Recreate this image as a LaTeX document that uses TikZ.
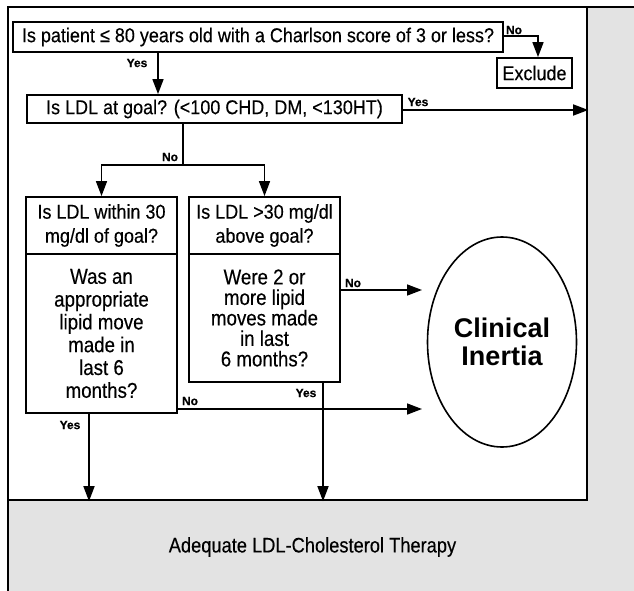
\documentclass[tikz,border=0pt]{standalone}
\usepackage{fontspec}
\setmainfont{Liberation Sans}
\newfontfamily\nfA[FakeStretch=0.9,FakeBold=0.3]{Liberation Sans}
\newfontfamily\nfB[FakeStretch=0.87,FakeBold=0.3]{Liberation Sans}
\newfontfamily\nfL[FakeBold=0.6]{Liberation Sans Bold}
\usetikzlibrary{arrows.meta,shapes.geometric}
\definecolor{panel}{HTML}{E3E3E3}
\begin{document}
\begin{tikzpicture}[x=1pt,y=-1pt,
  box/.style={draw,line width=1.8pt,inner sep=0pt,align=center,font=\nfA\fontsize{20}{23}\selectfont},
  lbl/.style={inner sep=0pt,font=\nfL\fontsize{12}{12}\selectfont},
  arr/.style={line width=1.6pt,-{Triangle[length=15pt,width=11pt]}},
  ln/.style={line width=1.6pt}]
\clip (0,0) rectangle (634,591);
\useasboundingbox (0,0) rectangle (634,591);
% backgrounds
\fill[white] (0,0) rectangle (634,591);
\draw[fill=panel,line width=2.4pt] (8,7) rectangle (700,700);
\node[draw,fill=white,line width=2.4pt,minimum width=579pt,minimum height=493pt,inner sep=0pt] (frame) at (297.5,253.5) {};
% boxes
\node[box,minimum width=490pt,minimum height=30pt] (q1) at (258,37) {Is patient ≤ 80 years old with a Charlson score of 3 or less?};
\node[box,minimum width=75pt,minimum height=30pt] (excl) at (534.5,73) {Exclude};
\node[box,minimum width=375pt,minimum height=28pt] (q2) at (214.5,109) {Is LDL at goal? (<100 CHD, DM, <130HT)};
\node[box,minimum width=151pt,minimum height=57pt,font=\nfA\fontsize{20}{24}\selectfont] (l1a) at (101.5,225.5) {Is LDL within 30\\mg/dl of goal?};
\node[box,minimum width=151pt,minimum height=159pt,font=\nfB\fontsize{21.5}{22.8}\selectfont] (l1b) at (101.5,333.5) {Was an\\appropriate\\lipid move\\made in\\last 6\\months?};
\node[box,minimum width=151pt,minimum height=57pt,font=\nfA\fontsize{20}{24}\selectfont] (r1a) at (264.5,225.5) {Is LDL >30 mg/dl\\above goal?};
\node[box,minimum width=151pt,minimum height=128pt,font=\nfB\fontsize{21.5}{20.5}\selectfont] (r1b) at (264.5,318) {Were 2 or\\more lipid\\moves made\\in last\\6 months?};
\node[ellipse,draw,line width=1.6pt,minimum width=149pt,minimum height=210pt,inner sep=0pt,align=center,font=\bfseries\fontsize{27}{28}\selectfont] (ci) at (502,342) {Clinical\\Inertia};
\node[inner sep=0pt,font=\nfB\fontsize{21}{22}\selectfont] (adq) at (312.5,547) {Adequate LDL-Cholesterol Therapy};
% helper coordinates
\coordinate (cyes1) at (158,0);
\coordinate (cno1) at (538,36);
\coordinate (cyes2) at (0,110);
\coordinate (cno2) at (183,165);
\coordinate (cnoR) at (0,290);
\coordinate (cnoL) at (0,409);
\coordinate (tipx) at (422,0);
\coordinate (cyesL) at (89,0);
\coordinate (cyesR) at (323,0);
% connectors
\draw[arr] (q1.south -| cyes1) -- (q2.north -| cyes1);
\draw[arr] (q1.east |- cno1) -| (excl.north -| cno1);
\draw[arr] (q2.east |- cyes2) -- (frame.east |- cyes2);
\draw[ln] (q2.south -| cno2) -- (cno2);
\draw[arr] (cno2) -| (l1a.north);
\draw[arr] (cno2) -| (r1a.north);
\draw[arr] (r1b.east |- cnoR) -- (tipx |- cnoR);
\draw[arr] (l1b.east |- cnoL) -- (tipx |- cnoL);
\draw[arr] (l1b.south -| cyesL) -- (frame.south -| cyesL);
\draw[arr] (r1b.south -| cyesR) -- (frame.south -| cyesR);
% labels
\node[lbl] (y1) at (137,63) {Yes};
\node[lbl] (n1) at (514,30) {No};
\node[lbl] (y2) at (418,102) {Yes};
\node[lbl] (n2) at (170,157) {No};
\node[lbl] (n3) at (353,283) {No};
\node[lbl] (n4) at (190,401) {No};
\node[lbl] (y3) at (70,425) {Yes};
\node[lbl] (y4) at (306,393) {Yes};
\end{tikzpicture}
\end{document}
